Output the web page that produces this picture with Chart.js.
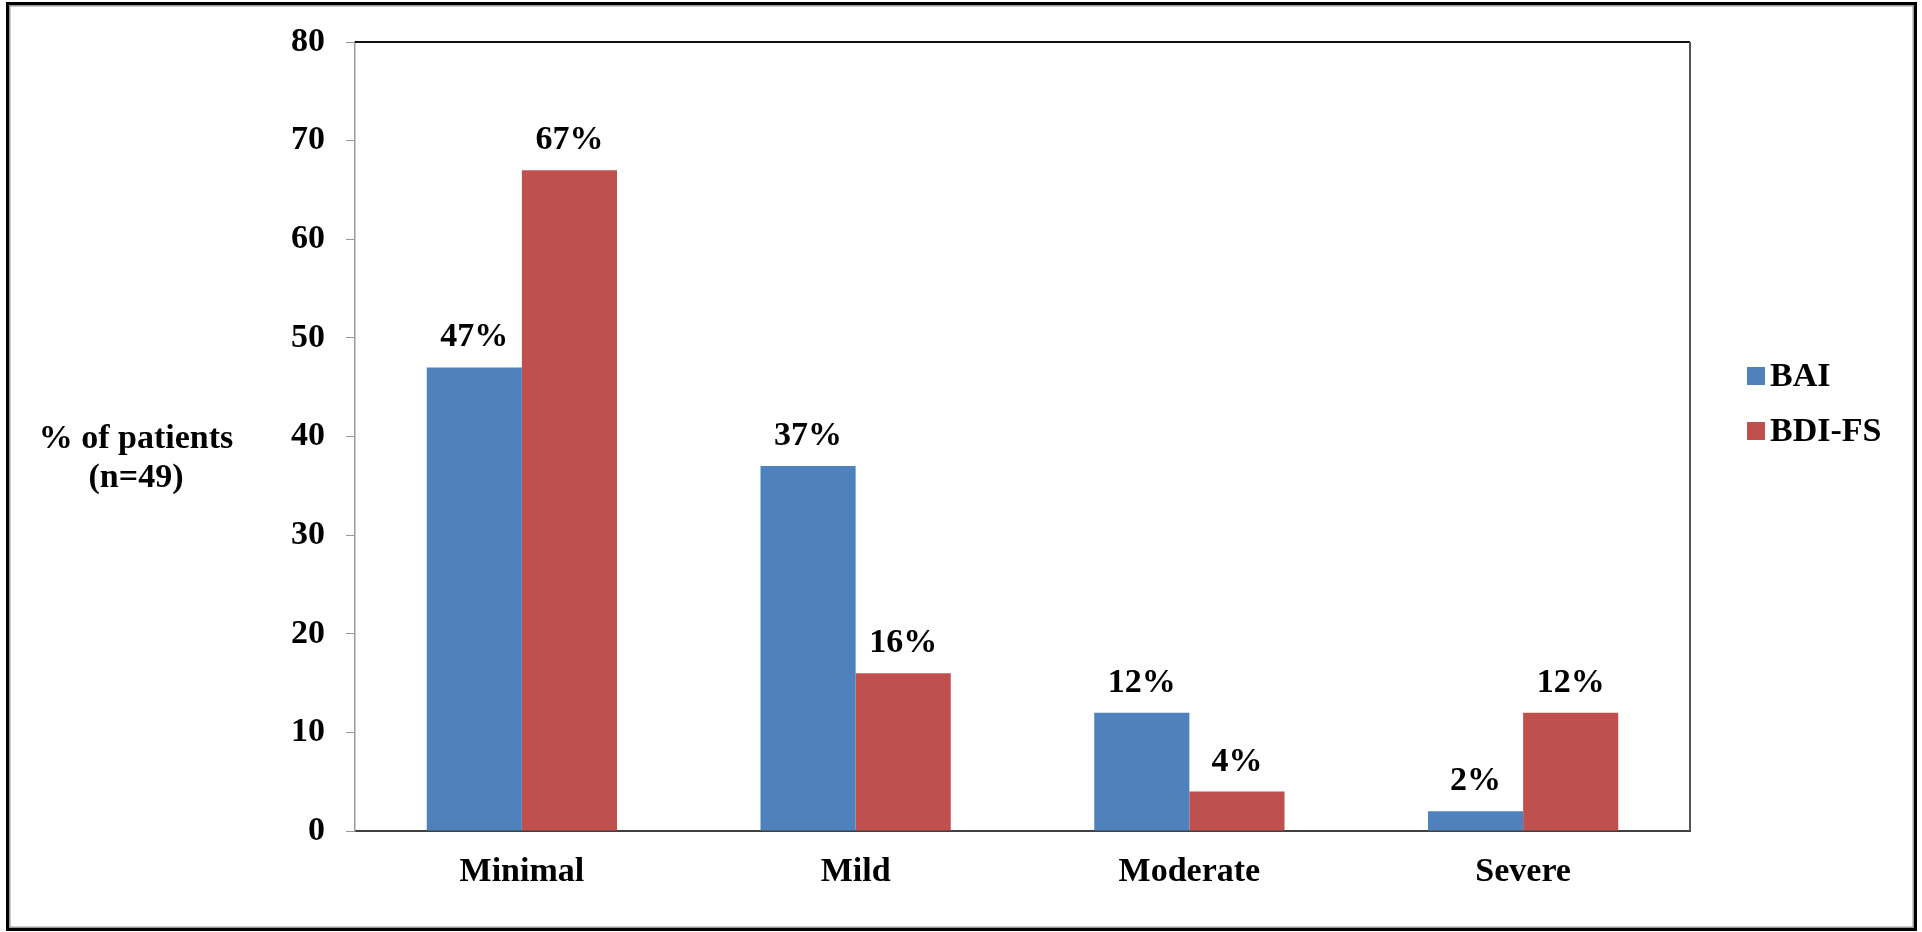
<!DOCTYPE html>
<html lang="en">
<head>
<meta charset="UTF-8">
<title>BAI / BDI-FS severity</title>
<style>
  html, body {
    margin: 0;
    padding: 0;
    background: #fff;
    overflow: hidden;
  }
  #wrap {
    position: relative;
    width: 1922px;
    height: 932px;
  }
</style>
<script src="https://cdn.jsdelivr.net/npm/chart.js"></script>
</head>
<body>
<div id="wrap">
  <canvas id="severityChart"></canvas>
</div>

<script>
// Severity categories and percentage of patients per questionnaire
const categories = ['Minimal', 'Mild', 'Moderate', 'Severe'];
const baiValues = [47, 37, 12, 2];
const bdiValues = [67, 16, 4, 12];
const seriesNames = ['BAI', 'BDI-FS'];
const yTicks = [0, 10, 20, 30, 40, 50, 60, 70, 80];
const yTitle = ['% of patients', '(n=49)'];

const FONT = '"Liberation Serif", "Times New Roman", serif';
const FONT_SIZE = 34;
const BLUE = '#4F81BD';
const RED = '#C0504D';

Chart.defaults.font.family = FONT;
Chart.defaults.font.weight = 'bold';
Chart.defaults.font.size = FONT_SIZE;
Chart.defaults.color = '#000';

// value labels above each bar, plus the frame, axis title and legend
const decorations = {
  id: 'decorations',
  afterDatasetsDraw(chart) {
    const ctx = chart.ctx;
    const area = chart.chartArea;
    ctx.save();
    ctx.font = 'bold ' + FONT_SIZE + 'px ' + FONT;
    ctx.fillStyle = '#000';
    ctx.textAlign = 'center';
    ctx.textBaseline = 'alphabetic';
    chart.data.datasets.forEach((ds, i) => {
      chart.getDatasetMeta(i).data.forEach((bar, j) => {
        const p = bar.getProps(['x', 'y'], true);
        ctx.fillText(ds.data[j] + '%', p.x, p.y - 21);
      });
    });

    // top and right edges of the plot box
    ctx.lineWidth = 2;
    ctx.strokeStyle = '#111';
    ctx.beginPath();
    ctx.moveTo(area.left, area.top);
    ctx.lineTo(area.right, area.top);
    ctx.stroke();
    ctx.strokeStyle = '#555';
    ctx.beginPath();
    ctx.moveTo(area.right, area.top);
    ctx.lineTo(area.right, area.bottom);
    ctx.stroke();

    // horizontal axis title on the left
    ctx.fillText(yTitle[0], 136, 448);
    ctx.fillText(yTitle[1], 136, 487);

    // legend
    ctx.textAlign = 'left';
    chart.data.datasets.forEach((ds, i) => {
      const y = 367 + i * 55;
      ctx.fillStyle = ds.backgroundColor;
      ctx.fillRect(1747, y, 18, 18);
      ctx.fillStyle = '#000';
      ctx.fillText(ds.label, 1770, y + 19);
    });

    // outer frame
    ctx.strokeStyle = '#000';
    ctx.lineWidth = 3;
    ctx.strokeRect(7.5, 3.5, 1908, 926);
    ctx.strokeStyle = '#999';
    ctx.lineWidth = 1.5;
    ctx.strokeRect(9.75, 5.75, 1903.5, 921.5);
    ctx.restore();
  }
};

new Chart(document.getElementById('severityChart'), {
  type: 'bar',
  data: {
    labels: categories,
    datasets: [
      { label: seriesNames[0], data: baiValues, backgroundColor: BLUE, borderWidth: 0 },
      { label: seriesNames[1], data: bdiValues, backgroundColor: RED, borderWidth: 0 }
    ]
  },
  options: {
    responsive: true,
    maintainAspectRatio: false,
    animation: false,
    devicePixelRatio: 1,
    categoryPercentage: 0.57,
    barPercentage: 1,
    layout: { padding: { left: 0, top: 42, right: 232, bottom: 0 } },
    plugins: {
      legend: { display: false },
      tooltip: { enabled: false }
    },
    scales: {
      x: {
        grid: { display: false, drawTicks: false },
        border: { display: true, color: '#404040', width: 2 },
        ticks: { padding: 21, font: { size: FONT_SIZE, weight: 'bold' } },
        afterFit(scale) { scale.height = 101; }
      },
      y: {
        min: 0,
        max: 80,
        afterBuildTicks(scale) { scale.ticks = yTicks.map(v => ({ value: v })); },
        grid: { drawOnChartArea: false, tickLength: 9, color: '#999' },
        border: { display: true, color: '#999', width: 1.5 },
        ticks: { padding: 21, font: { size: FONT_SIZE, weight: 'bold' } },
        afterFit(scale) { scale.width = 355; }
      }
    }
  },
  plugins: [decorations]
});
</script>
</body>
</html>
